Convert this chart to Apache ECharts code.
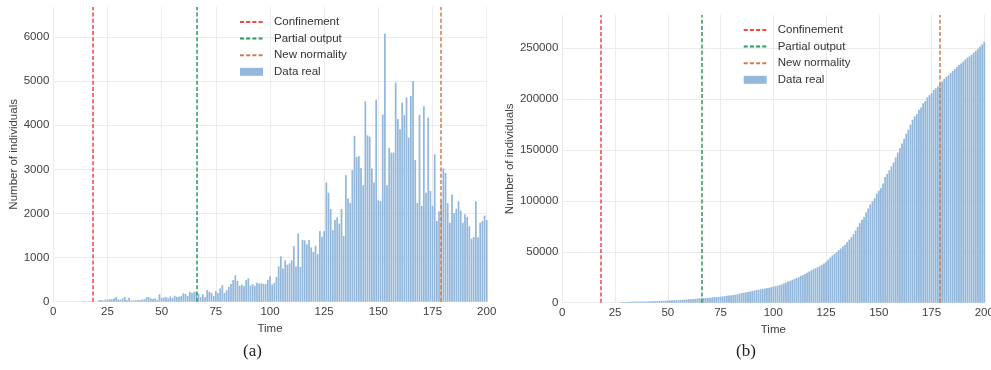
<!DOCTYPE html>
<html>
<head>
<meta charset="utf-8">
<script src="https://cdn.jsdelivr.net/npm/echarts@6/dist/echarts.min.js"></script>
<style>
  html, body { margin: 0; padding: 0; background: #fff; }
  #chart { width: 991px; height: 370px; }
</style>
</head>
<body>
<div id="chart"></div>
<script>
// Daily new cases, one value per day starting at day 14
const dailyStart = 14;
const dailyCases = [
  15, 0, 0, 10, 0, 0, 0, 30, 40, 25,
  50, 45, 60, 55, 75, 110, 50, 45, 75, 110,
  40, 90, 30, 25, 30, 40, 35, 50, 55, 100,
  105, 75, 60, 75, 40, 170, 90, 90, 105, 75,
  115, 85, 135, 105, 115, 130, 190, 175, 130, 220,
  195, 225, 225, 180, 100, 170, 100, 265, 225, 200,
  130, 240, 200, 300, 375, 200, 260, 340, 400, 490,
  600, 470, 360, 390, 355, 490, 530, 370, 400, 360,
  430, 410, 415, 400, 400, 495, 575, 390, 430, 560,
  800, 1030, 755, 940, 840, 870, 940, 1260, 800, 1550,
  790, 1400, 1390, 1300, 1400, 1230, 1130, 1270, 1080, 1600,
  1470, 1600, 2700, 2470, 2100, 1620, 1850, 1910, 1770, 2100,
  1490, 2870, 2340, 2240, 2980, 3760, 3280, 3300, 3030, 2640,
  4540, 3770, 3740, 3020, 2700, 4580, 2300, 2280, 4240, 6075,
  2640, 3490, 3380, 3380, 4970, 4140, 3910, 4510, 4230, 4630,
  3720, 4660, 5000, 3210, 2240, 4240, 2170, 4430, 2470, 4170,
  2510, 2170, 3340, 1830, 2050, 2300, 3020, 2920, 2230, 1790,
  2430, 2010, 2110, 2280, 2070, 1790, 1980, 1920, 1710, 1430,
  1470, 2280, 1460, 1790, 1830, 1950, 1850
];

// Accumulated cases, one value per day starting at day 28
const totalStart = 28;
const totalCases = [
  600, 700, 760, 800, 880, 990, 1030, 1120, 1150, 1180,
  1210, 1250, 1290, 1340, 1400, 1500, 1600, 1680, 1740, 1820,
  1860, 2030, 2120, 2210, 2320, 2390, 2510, 2590, 2730, 2830,
  2950, 3080, 3270, 3440, 3570, 3790, 3990, 4210, 4430, 4550,
  4610, 4810, 4890, 5150, 5380, 5580, 5690, 5920, 6180, 6480,
  6860, 7080, 7250, 7590, 7900, 8390, 8990, 9480, 9840, 10210,
  10570, 11060, 11590, 11950, 12360, 12690, 13130, 13520, 13940, 14340,
  14740, 15240, 15820, 16200, 16630, 17210, 18020, 19050, 19800, 20740,
  21570, 22440, 23200, 24300, 25000, 26400, 27100, 28300, 29500, 30600,
  31800, 32800, 33800, 34900, 35800, 37200, 38500, 39900, 42300, 44500,
  46400, 47900, 49700, 51600, 53300, 55300, 56800, 59500, 62000, 64300,
  67300, 71000, 74500, 78200, 81400, 84200, 88800, 92700, 96500, 99700,
  102600, 107300, 110000, 112500, 117000, 123500, 126400, 130200, 133900, 137600,
  142800, 147500, 151700, 156500, 161000, 166000, 170000, 175000, 179800, 183000,
  185300, 189500, 191700, 195800, 198000, 201600, 203900, 205900, 208900, 210600,
  212500, 214600, 217200, 219800, 221800, 223400, 225600, 227500, 229400, 231500,
  233400, 235000, 236900, 238900, 240600, 242000, 243500, 245700, 247500, 249500,
  251600, 253900, 256200
];

// Policy milestones (day of the epidemic)
const eventNames = ['Confinement', 'Partial output', 'New normality'];
const eventDays = [18, 66, 179];
const eventColors = ['#f04646', '#2a9a60', '#cc7d50'];

const barName = 'Data real';
const barColor = '#93b8db';
const textColor = '#404040';
const gridColor = '#ebebeb';
const fontFamily = '"Liberation Sans", Arial, sans-serif';

const dailyPoints = dailyCases.map((v, i) => [dailyStart + i, v]);
const totalPoints = totalCases.map((v, i) => [totalStart + i, v]);

const plainNumber = v => String(v);

function xAxisFor(gridIndex) {
  return {
    type: 'value', gridIndex, min: 0, max: 200, interval: 25,
    name: 'Time', nameLocation: 'middle', nameGap: 15,
    nameTextStyle: { color: textColor, fontSize: 11.5, fontFamily },
    axisLine: { show: false }, axisTick: { show: false },
    axisLabel: { color: textColor, fontSize: 11.5, fontFamily, margin: 4, formatter: plainNumber },
    splitLine: { show: true, lineStyle: { color: gridColor, width: 1 } }
  };
}

function yAxisFor(gridIndex, max, interval, gap) {
  return {
    type: 'value', gridIndex, min: 0, max, interval,
    name: 'Number of individuals', nameLocation: 'middle', nameRotate: 90, nameGap: gap,
    nameTextStyle: { color: textColor, fontSize: 11.5, fontFamily },
    axisLine: { show: false }, axisTick: { show: false },
    axisLabel: { color: textColor, fontSize: 11.5, fontFamily, margin: 4, showMaxLabel: false, formatter: plainNumber },
    splitLine: { show: true, showMaxLine: false, lineStyle: { color: gridColor, width: 1 } }
  };
}

function eventSeries(k, axisIndex) {
  const dash = { type: [4, 2.2], width: 1.5, color: eventColors[k] };
  return {
    type: 'line', name: eventNames[k], xAxisIndex: axisIndex, yAxisIndex: axisIndex,
    data: [], symbol: 'none', showSymbol: false, color: eventColors[k], lineStyle: dash,
    markLine: {
      silent: true, symbol: ['none', 'none'], label: { show: false },
      lineStyle: dash, data: [{ xAxis: eventDays[k] }], animation: false
    }
  };
}

function legendFor(left, top) {
  return {
    orient: 'vertical', left, top, padding: 0,
    itemWidth: 23, itemHeight: 8, itemGap: 4.6,
    data: eventNames.map(n => ({ name: n, itemStyle: { opacity: 0 } }))
      .concat([{ name: barName, icon: 'rect' }]),
    textStyle: { color: '#333', fontSize: 11.5, fontFamily, padding: [0, 0, 0, 6] },
    selectedMode: false
  };
}

const option = {
  animation: false,
  backgroundColor: '#fff',
  grid: [
    { left: 53.3, top: 7, width: 433.4, height: 294.7, outerBoundsMode: 'none' },
    { left: 562.3, top: 15, width: 422, height: 287.7, outerBoundsMode: 'none' }
  ],
  xAxis: [xAxisFor(0), xAxisFor(1)],
  yAxis: [yAxisFor(0, 6680, 1000, 29), yAxisFor(1, 282600, 50000, 40)],
  legend: [legendFor(239, 16), legendFor(742.7, 24)],
  series: [
    { type: 'bar', name: barName, xAxisIndex: 0, yAxisIndex: 0, data: dailyPoints,
      barWidth: 1.75, itemStyle: { color: barColor } },
    eventSeries(0, 0), eventSeries(1, 0), eventSeries(2, 0),
    { type: 'bar', name: barName, xAxisIndex: 1, yAxisIndex: 1, data: totalPoints,
      barWidth: 1.8, itemStyle: { color: barColor } },
    eventSeries(0, 1), eventSeries(1, 1), eventSeries(2, 1)
  ],
  graphic: [
    { type: 'text', left: 243, top: 343, style: { text: '(a)', font: '17px "Liberation Serif", serif', fill: '#222' } },
    { type: 'text', left: 736, top: 343, style: { text: '(b)', font: '17px "Liberation Serif", serif', fill: '#222' } }
  ]
};

const chart = echarts.init(document.getElementById('chart'), null, { renderer: 'canvas' });
chart.setOption(option);
</script>
</body>
</html>
